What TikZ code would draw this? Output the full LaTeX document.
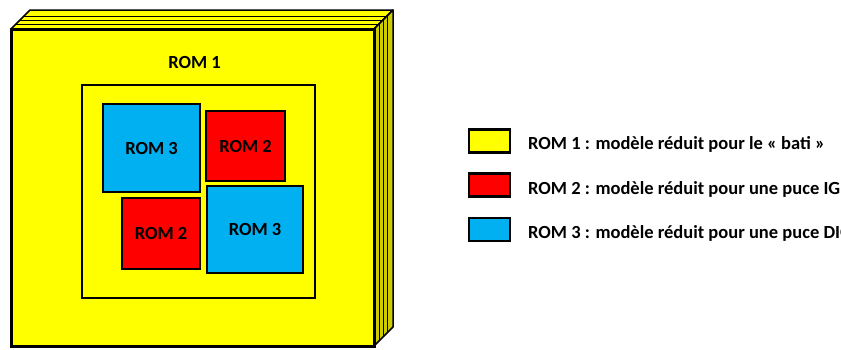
\documentclass[tikz,border=0pt]{standalone}
\usepackage{fontspec}
\setmainfont{Carlito}
\definecolor{romyellow}{HTML}{FFFF00}
\definecolor{romside}{HTML}{CCCC00}
\definecolor{romred}{HTML}{FF0000}
\definecolor{romblue}{HTML}{00B0F0}
\begin{document}
\begin{tikzpicture}[x=1pt,y=-1pt]
		\tikzset{rom/.style = {shape=rectangle, draw, line width=2.5pt, inner sep=0pt, font=\fontsize{18.5}{20}\selectfont\bfseries}}
		\tikzset{key/.style = {shape=rectangle, draw, line width=2.5pt, minimum width=41pt, minimum height=23pt}}
		\tikzset{keytext/.style = {anchor=base west, inner sep=0pt, font=\fontsize{18.5}{20}\selectfont\bfseries}}

		\useasboundingbox (0,0) rectangle (841,349);

		%block
		\filldraw[fill=romyellow, line width=1.5pt, line join=round] (11,29) -- (30,10) -- (393,10) -- (374,29) -- cycle;
		\filldraw[fill=romside, line width=1.5pt, line join=round] (374,29) -- (393,10) -- (393,327) -- (374,346) -- cycle;
		\foreach \k in {5,9,13}
		{
			\draw[line width=1pt] (11+\k,29-\k) -- (374+\k,29-\k) -- (374+\k,346-\k);
		}
		\filldraw[fill=romyellow, line width=3pt] (11,29) rectangle (374,346);

		\node[anchor=base, inner sep=0pt, font=\fontsize{18.5}{20}\selectfont\bfseries] (R_1) at (194.5,68) {ROM 1};
		\node[rom, minimum width=233pt, minimum height=213pt] (F_1) at (198.5,191.5) {};

		\node[rom, fill=romblue, minimum width=97pt, minimum height=88pt] (R_3a) at (151.5,148) {ROM 3};
		\node[rom, fill=romred, minimum width=79pt, minimum height=70pt] (R_2a) at (245.5,146) {ROM 2};
		\node[rom, fill=romred, minimum width=78pt, minimum height=71pt] (R_2b) at (161,233.5) {ROM 2};
		\node[rom, fill=romblue, minimum width=96pt, minimum height=87pt] (R_3b) at (255,229.5) {ROM 3};

		%legend
		\node[key, fill=romyellow] (K_1) at (489.5,141) {};
		\node[key, fill=romred] (K_2) at (489.5,185) {};
		\node[key, fill=romblue] (K_3) at (489.5,229.5) {};

		\node[keytext] (T_1) at (528,149) {ROM 1 : modèle réduit pour le « bati »};
		\node[keytext] (T_2) at (528,194) {ROM 2 : modèle réduit pour une puce IGBT};
		\node[keytext] (T_3) at (528,238) {ROM 3 : modèle réduit pour une puce DIODE};

	\end{tikzpicture}
\end{document}
